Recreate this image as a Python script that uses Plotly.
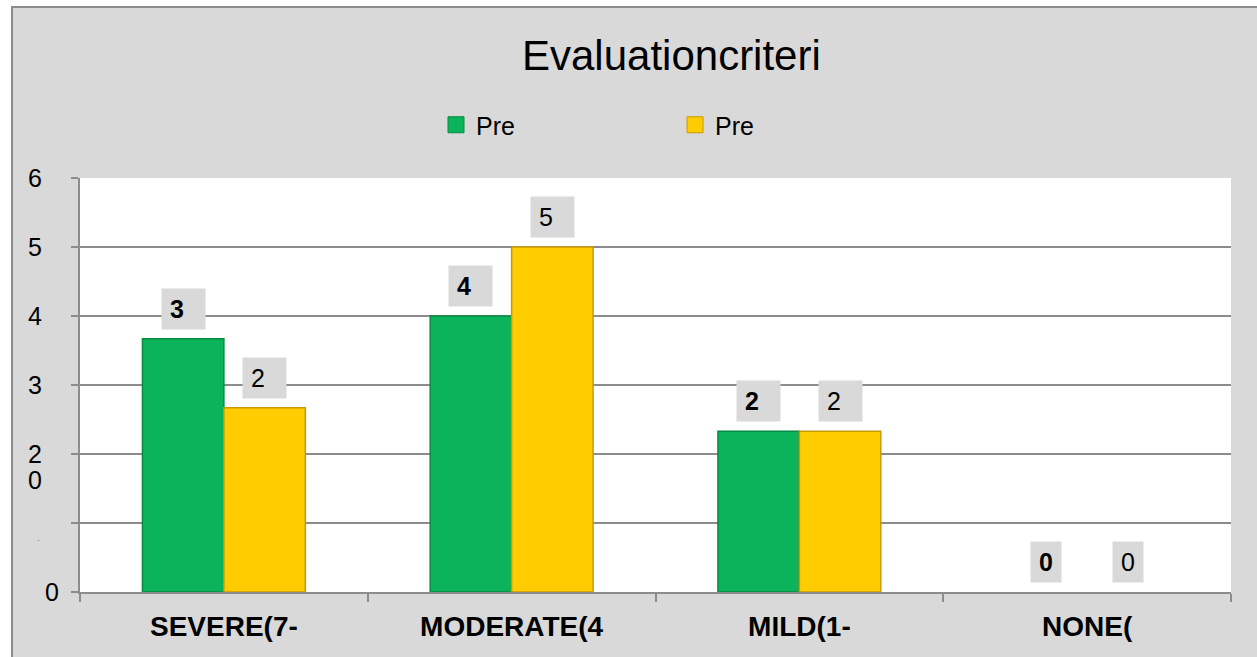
import plotly.graph_objects as go

# Chart data
categories = ["SEVERE(7-", "MODERATE(4", "MILD(1-", "NONE("]
series_names = ["Pre", "Pre"]
pre_green = [3.67, 4.0, 2.33, 0.0]
pre_yellow = [2.67, 5.0, 2.33, 0.0]
y_tick_values = [6, 5, 4, 3, 2, 1, 0]
y_tick_labels = ["6", "5", "4", "3", "2<br>0", ".", "0"]
title_text = "Evaluationcriteri"

FONT = "Liberation Sans, Arial, sans-serif"
GRAY_BG = "#D9D9D9"
GRID = "#8C8C8C"
GREEN = "#0BB45A"
GREEN_EDGE = "#078A44"
YELLOW = "#FFCC00"
YELLOW_EDGE = "#C99A00"

W, H = 1257, 657
ML, MR, MT, MB = 80, 26, 178, 65
PW = W - ML - MR
PH = H - MT - MB


def px_x(px):
    """Pixel column -> paper x."""
    return (px - ML) / PW


def px_y(py):
    """Pixel row -> paper y."""
    return 1 - (py - MT) / PH


fig = go.Figure()
for vals, name, fill, edge in ((pre_green, series_names[0], GREEN, GREEN_EDGE),
                               (pre_yellow, series_names[1], YELLOW, YELLOW_EDGE)):
    fig.add_trace(go.Bar(
        x=categories, y=vals, name=name, showlegend=False,
        marker=dict(color=fill,
                    line=dict(color=edge, width=[1.5 if v > 0 else 0 for v in vals])),
    ))
    # legend key drawn as a larger square swatch
    fig.add_trace(go.Scatter(
        x=[None], y=[None], mode="markers", name=name, showlegend=True,
        marker=dict(symbol="square", size=16, color=fill, line=dict(color=edge, width=1)),
    ))

BAR_W = (1 - 0.434) / 2
annotations = []

# value boxes above each bar (the boxes clip the value to its integer part)
for series, offset, bold in ((pre_green, -BAR_W / 2, True), (pre_yellow, BAR_W / 2, False)):
    for i, v in enumerate(series):
        label = str(int(v))
        txt = f"<b>{label}</b>" if bold else label
        annotations.append(dict(
            x=i + offset, y=v, xref="x", yref="y",
            text=txt, showarrow=False,
            xanchor="center", yanchor="bottom", yshift=9,
            bgcolor=GRAY_BG, borderpad=8,
            width=27 if v >= 1 else 14, height=24, align="left",
            font=dict(family=FONT, size=25, color="black"),
        ))

# y-axis tick labels
for val, lab in zip(y_tick_values, y_tick_labels):
    if lab == ".":
        annotations.append(dict(
            x=0, xref="paper", y=val, yref="y", text=lab, showarrow=False,
            xanchor="center", yanchor="middle", xshift=-42, yshift=-14,
            font=dict(family=FONT, size=10, color="#7F7F7F"),
        ))
        continue
    lines = lab.split("<br>")
    xshift = -37 if val != 0 else -20
    for k, line in enumerate(lines):
        annotations.append(dict(
            x=0, xref="paper", y=val, yref="y", text=line, showarrow=False,
            xanchor="right", yanchor="middle", xshift=xshift, yshift=-26 * k,
            height=22, borderpad=0,
            font=dict(family=FONT, size=25, color="black"),
        ))

# chart title
annotations.append(dict(
    x=px_x(671), xref="paper", y=px_y(55), yref="paper", text=title_text,
    showarrow=False, xanchor="center", yanchor="middle",
    font=dict(family=FONT, size=42, color="black"),
))

shapes = [
    # white margin outside the chart frame
    dict(type="rect", xref="paper", yref="paper", layer="below",
         x0=px_x(-5), x1=px_x(12), y0=px_y(H + 5), y1=px_y(-5),
         fillcolor="white", line=dict(width=0)),
    dict(type="rect", xref="paper", yref="paper", layer="below",
         x0=px_x(-5), x1=px_x(W + 5), y0=px_y(7), y1=px_y(-5),
         fillcolor="white", line=dict(width=0)),
    # chart frame
    dict(type="rect", xref="paper", yref="paper", layer="below",
         x0=px_x(12), x1=px_x(W + 20), y0=px_y(H + 20), y1=px_y(7),
         fillcolor="rgba(0,0,0,0)", line=dict(color="#8C8C8C", width=2)),
]

fig.update_layout(
    width=W, height=H, autosize=False,
    margin=dict(l=ML, r=MR, t=MT, b=MB, pad=0),
    paper_bgcolor=GRAY_BG, plot_bgcolor="white",
    barmode="group", bargap=0.434, bargroupgap=0,
    font=dict(family=FONT, color="black"),
    showlegend=True,
    legend=dict(
        orientation="h", x=px_x(436), xanchor="left",
        y=px_y(125), yanchor="middle",
        font=dict(family=FONT, size=25, color="black"),
        bgcolor="rgba(0,0,0,0)", entrywidth=194, entrywidthmode="pixels",
        itemclick=False, itemdoubleclick=False,
    ),
    xaxis=dict(
        type="category", tickson="boundaries", ticks="outside", ticklen=8,
        tickcolor=GRID, tickwidth=1.5, showline=True, linecolor=GRID, linewidth=2,
        showgrid=False, ticklabelstandoff=8,
        tickfont=dict(family=FONT, size=28, color="black", weight="bold"),
    ),
    yaxis=dict(
        range=[0, 6], tickvals=y_tick_values, showticklabels=False,
        ticks="outside", ticklen=7, tickcolor=GRID, tickwidth=1.5,
        showline=True, linecolor=GRID, linewidth=2,
        showgrid=True, gridcolor=GRID, gridwidth=1.5, zeroline=False,
    ),
    annotations=annotations,
    shapes=shapes,
)

fig.write_html("out.html")
